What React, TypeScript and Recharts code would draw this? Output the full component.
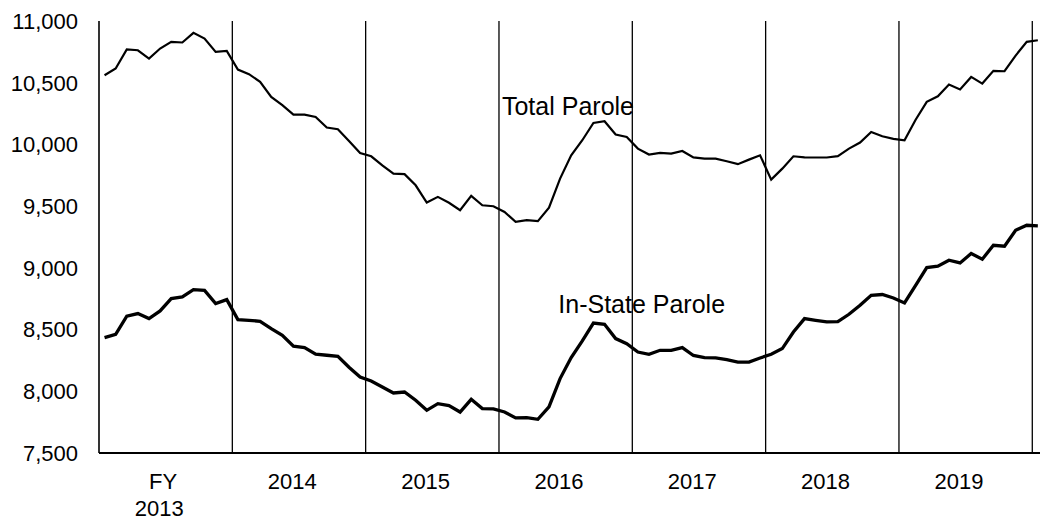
// Parole population by month, FY2013 – FY2019

import { LineChart, Line, XAxis, YAxis, ReferenceLine, ReferenceDot } from "recharts";

const FONT = "'Liberation Sans', Arial, sans-serif";

const fiscalYears = ["FY\n2013", "2014", "2015", "2016", "2017", "2018", "2019"];

const totalParole = [
  10561, 10615, 10769, 10763, 10696, 10777, 10831, 10826, 10904, 10858, 10750, 10758,
  10607, 10569, 10507, 10385, 10318, 10242, 10242, 10223, 10137, 10123, 10027, 9931,
  9904, 9831, 9764, 9759, 9669, 9529, 9575, 9527, 9467, 9583, 9507, 9499,
  9453, 9372, 9386, 9378, 9488, 9723, 9912, 10034, 10174, 10188, 10080, 10061,
  9966, 9918, 9931, 9926, 9947, 9895, 9885, 9885, 9864, 9840, 9877, 9912,
  9715, 9804, 9904, 9895, 9894, 9894, 9905, 9966, 10015, 10101, 10066, 10045,
  10034, 10200, 10345, 10390, 10485, 10445, 10547, 10493, 10596, 10593, 10720, 10831,
  10844,
];

const inStateParole = [
  8435, 8462, 8608, 8630, 8589, 8651, 8751, 8764, 8824, 8818, 8711, 8743,
  8581, 8575, 8567, 8508, 8454, 8365, 8354, 8300, 8292, 8284, 8195, 8116,
  8083, 8035, 7986, 7994, 7927, 7846, 7900, 7884, 7832, 7935, 7860, 7857,
  7832, 7784, 7787, 7773, 7873, 8103, 8273, 8408, 8553, 8543, 8427, 8386,
  8318, 8300, 8332, 8332, 8354, 8290, 8273, 8270, 8257, 8237, 8237, 8270,
  8300, 8346, 8480, 8589, 8575, 8562, 8565, 8624, 8697, 8778, 8784, 8756,
  8716, 8859, 9002, 9013, 9062, 9040, 9116, 9070, 9183, 9175, 9305, 9345,
  9340,
];

const yTicks = [7500, 8000, 8500, 9000, 9500, 10000, 10500, 11000];

// series labels placed beside the lines (month index, value)
const annotations = [
  { text: "Total Parole", m: 36.77, v: 10238 },
  { text: "In-State Parole", m: 41.84, v: 8637 },
];

const data = totalParole.map((t, i) => ({ m: i + 1, total: t, inState: inStateParole[i] }));
const yearCenters = fiscalYears.map((_, k) => k * 12 + 6.5);
const yearBounds = fiscalYears.map((_, k) => (k + 1) * 12 + 0.5);

const YearTick = ({ x, y, payload }: any) => {
  const k = yearCenters.indexOf(payload.value);
  const lines = (fiscalYears[k] ?? "").split("\n");
  return (
    <g>
      {lines.map((s, j) => (
        <text
          key={j}
          x={x + (lines.length > 1 ? (j === 0 ? -2.5 : -6.5) : -6.7)}
          y={y + 36 + j * 26.7}
          textAnchor="middle"
          fontSize={22}
          fontFamily={FONT}
          fill="#000"
        >
          {s}
        </text>
      ))}
    </g>
  );
};

const AnnoText = (text: string) => (p: any) => (
  <text x={p.cx} y={p.cy} fontSize={25} fontFamily={FONT} fill="#000">
    {text}
  </text>
);

export default function App() {
  return (
    <div style={{ position: "absolute", left: 0, top: 0, width: 1040, height: 521, overflow: "hidden", background: "#fff" }}>
      <LineChart width={1055} height={521} data={data} margin={{ top: 21, right: 11.6, bottom: 8, left: 0 }}>
        <XAxis
          type="number"
          dataKey="m"
          domain={[0.5, 85.5]}
          ticks={yearCenters}
          tick={<YearTick />}
          tickLine={false}
          tickSize={0}
          tickMargin={0}
          axisLine={{ stroke: "#000", strokeWidth: 2 }}
          height={60}
          allowDataOverflow
        />
        <YAxis
          domain={[7500, 11000]}
          ticks={yTicks}
          width={99}
          tickLine={false}
          tickSize={0}
          tickMargin={21}
          axisLine={{ stroke: "#000", strokeWidth: 1.6 }}
          tick={{ fontSize: 22, fontFamily: FONT, fill: "#000" }}
          tickFormatter={(v: number) => v.toLocaleString("en-US")}
          allowDataOverflow
        />
        {yearBounds.map((b) => (
          <ReferenceLine key={b} x={b} stroke="#000" strokeWidth={1.3} ifOverflow="hidden" />
        ))}
        <Line type="linear" dataKey="total" stroke="#000" strokeWidth={2.2} dot={false} isAnimationActive={false} />
        <Line type="linear" dataKey="inState" stroke="#000" strokeWidth={3.3} dot={false} isAnimationActive={false} />
        {annotations.map((a) => (
          <ReferenceDot key={a.text} x={a.m} y={a.v} r={0} shape={AnnoText(a.text)} ifOverflow="visible" />
        ))}
      </LineChart>
    </div>
  );
}
